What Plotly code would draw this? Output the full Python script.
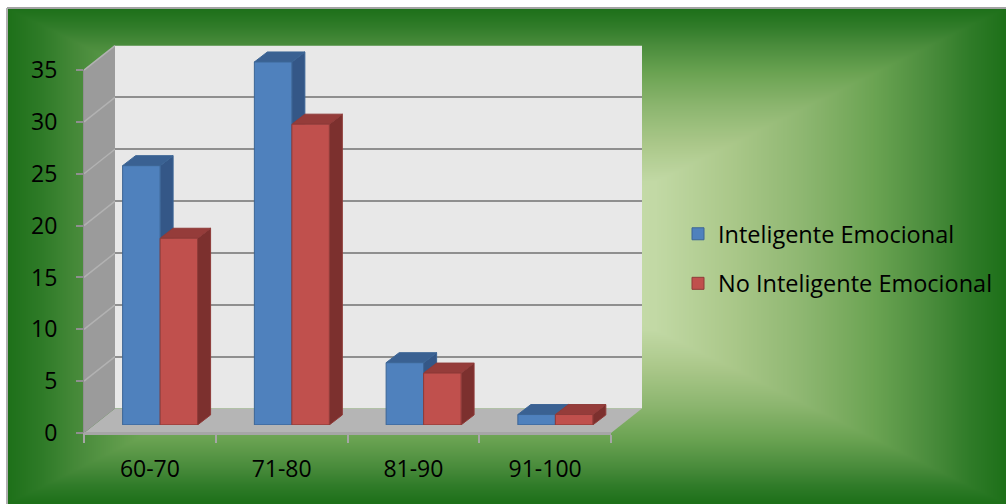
import base64
import struct
import zlib

import numpy as np
import plotly.graph_objects as go

# ---------------------------------------------------------------- data
rangos = ["60-70", "71-80", "81-90", "91-100"]
inteligente = [25, 35, 6, 1]
no_inteligente = [18, 29, 5, 1]
y_ticks = [0, 5, 10, 15, 20, 25, 30, 35]

# ---------------------------------------------------------------- geometry (pixels)
W, H = 1006, 504
FRAME_X0, FRAME_Y0 = 7, 8            # green panel top-left corner
FRONT_X0, FRONT_Y0 = 84, 433         # front floor edge / value 0
CAT_PX = 131.75                      # width of one category
UNIT_PX = 10.37                      # pixels per value unit
WALL_DX, WALL_DY = 31, -24.5         # front edge -> back wall offset
BAR_PLANE = 0.33                     # bars sit a third of the way in
BAR_DEPTH_PX = (13, -10)             # visible depth of each bar
BAR_W = 0.2845                       # bar width in category units
Y_MAX = 35
N = len(rangos)


def px(xp):
    return xp / W


def py(yp):
    return 1 - yp / H


def domain_x(x0_px, span_units):
    return [px(x0_px), px(x0_px + span_units * CAT_PX)]


def domain_y(y0_px, span_units):
    return [py(y0_px), py(y0_px - span_units * UNIT_PX)]


# ---------------------------------------------------------------- background gradient
def gradient_png(w, h):
    xs = (np.arange(w) + 0.5) / w * 2 - 1
    ys = (np.arange(h) + 0.5) / h * 2 - 1
    t = np.maximum(np.abs(xs)[None, :], np.abs(ys)[:, None])
    stops = [0.0, 0.30, 0.45, 0.60, 0.74, 0.85, 0.93, 1.0]
    cols = ["#cde0b2", "#c2d9a5", "#abc88a", "#8db670", "#6aa352",
            "#4a8c3c", "#2f7b28", "#1d7019"]
    rgb = np.array([[int(c[i:i + 2], 16) for i in (1, 3, 5)] for c in cols], float)
    img = np.stack([np.interp(t, stops, rgb[:, k]) for k in range(3)], axis=-1)
    img = np.clip(np.round(img), 0, 255).astype(np.uint8)
    raw = b"".join(b"\x00" + img[r].tobytes() for r in range(h))

    def chunk(tag, data):
        return (struct.pack(">I", len(data)) + tag + data
                + struct.pack(">I", zlib.crc32(tag + data) & 0xFFFFFFFF))

    png = (b"\x89PNG\r\n\x1a\n"
           + chunk(b"IHDR", struct.pack(">IIBBBBB", w, h, 8, 2, 0, 0, 0))
           + chunk(b"IDAT", zlib.compress(raw, 9))
           + chunk(b"IEND", b""))
    return "data:image/png;base64," + base64.b64encode(png).decode()


# ---------------------------------------------------------------- figure
fig = go.Figure()

xpos = [i + 0.5 for i in range(N)]
series = [
    ("Inteligente Emocional", inteligente, -BAR_W,
     "#4f81bd", "#3c6595", "#3a6192", "#345787"),
    ("No Inteligente Emocional", no_inteligente, 0.0,
     "#c0504d", "#8f3b39", "#953c3a", "#7c302e"),
]

depth_x = BAR_DEPTH_PX[0] / CAT_PX
depth_y = -BAR_DEPTH_PX[1] / UNIT_PX

shapes = []

# panel border
shapes.append(dict(type="line", xref="paper", yref="paper",
                   x0=px(FRAME_X0), x1=1, y0=py(FRAME_Y0), y1=py(FRAME_Y0),
                   line=dict(color="#a3a3a3", width=2), layer="below"))
shapes.append(dict(type="line", xref="paper", yref="paper",
                   x0=px(FRAME_X0), x1=px(FRAME_X0), y0=0, y1=py(FRAME_Y0),
                   line=dict(color="#b0b0b0", width=2), layer="below"))

# floor and side wall
fx1 = FRONT_X0 + N * CAT_PX
back_y0 = FRONT_Y0 + WALL_DY
top_front = FRONT_Y0 - Y_MAX * UNIT_PX
floor_path = (f"M{px(FRONT_X0)},{py(FRONT_Y0)} L{px(fx1)},{py(FRONT_Y0)} "
              f"L{px(fx1 + WALL_DX)},{py(back_y0)} L{px(FRONT_X0 + WALL_DX)},{py(back_y0)} Z")
shapes.append(dict(type="path", xref="paper", yref="paper", path=floor_path,
                   fillcolor="#b5b5b5", line=dict(width=0), layer="below"))
side_path = (f"M{px(FRONT_X0)},{py(FRONT_Y0)} L{px(FRONT_X0)},{py(top_front)} "
             f"L{px(FRONT_X0 + WALL_DX)},{py(top_front + WALL_DY)} "
             f"L{px(FRONT_X0 + WALL_DX)},{py(back_y0)} Z")
shapes.append(dict(type="path", xref="paper", yref="paper", path=side_path,
                   fillcolor="#9b9b9b", line=dict(width=0), layer="below"))
for v in y_ticks[1:]:
    yf = FRONT_Y0 - v * UNIT_PX
    shapes.append(dict(type="line", xref="paper", yref="paper",
                       x0=px(FRONT_X0), y0=py(yf),
                       x1=px(FRONT_X0 + WALL_DX), y1=py(yf + WALL_DY),
                       line=dict(color="#b2b2b2", width=1.5), layer="below"))

# back wall
shapes.append(dict(type="rect", xref="x", yref="y", x0=0, x1=N, y0=0, y1=Y_MAX,
                   fillcolor="#e8e8e8", line=dict(width=0), layer="below"))

# front edge of the floor, on the labelled front axes
shapes.append(dict(type="line", xref="x3", yref="y3", x0=0, x1=N, y0=0, y1=0,
                   line=dict(color="#a6a6a6", width=2), layer="below"))

# bar tops and sides (drawn beneath the bar fronts)
for name, vals, off, front, edge, top, side in series:
    for xc, v in zip(xpos, vals):
        xl = xc + off
        xr = xl + BAR_W
        top_path = (f"M{xl},{v} L{xl + depth_x},{v + depth_y} "
                    f"L{xr + depth_x},{v + depth_y} L{xr},{v} Z")
        side_path = (f"M{xr},0 L{xr},{v} L{xr + depth_x},{v + depth_y} "
                     f"L{xr + depth_x},{depth_y} Z")
        shapes.append(dict(type="path", xref="x2", yref="y2", path=side_path,
                           fillcolor=side, line=dict(color=edge, width=1), layer="below"))
        shapes.append(dict(type="path", xref="x2", yref="y2", path=top_path,
                           fillcolor=top, line=dict(color=edge, width=1), layer="below"))

for name, vals, off, front, edge, top, side in series:
    fig.add_trace(go.Bar(
        x=xpos, y=vals, name=name, width=BAR_W, offset=off,
        marker=dict(color=front, line=dict(color=edge, width=1)),
        xaxis="x2", yaxis="y2", legendgroup=name,
    ))

font = dict(family="Open Sans", size=23, color="#000000")
legend_font = dict(family="Open Sans", size=23.5, color="#000000")

bar_x0 = FRONT_X0 + BAR_PLANE * WALL_DX
bar_y0 = FRONT_Y0 + BAR_PLANE * WALL_DY

fig.update_layout(
    width=W, height=H,
    margin=dict(l=0, r=0, t=0, b=0, autoexpand=False),
    paper_bgcolor="#ffffff",
    plot_bgcolor="rgba(0,0,0,0)",
    barmode="overlay",
    font=font,
    showlegend=True,
    legend=dict(x=px(678), y=py(212), xanchor="left", yanchor="top",
                bgcolor="rgba(0,0,0,0)", font=legend_font, tracegroupgap=16,
                traceorder="grouped"),
    images=[dict(source=gradient_png(500, 248), xref="paper", yref="paper",
                 x=px(FRAME_X0), y=py(FRAME_Y0), xanchor="left", yanchor="top",
                 sizex=1 - px(FRAME_X0), sizey=py(FRAME_Y0), sizing="stretch",
                 layer="below")],
    shapes=shapes,
    # back wall with its gridlines
    xaxis=dict(domain=domain_x(FRONT_X0 + WALL_DX, N), range=[0, N],
               showgrid=False, zeroline=False, showticklabels=False, ticks="",
               automargin=False, fixedrange=True),
    yaxis=dict(domain=domain_y(back_y0, Y_MAX), range=[0, Y_MAX], anchor="x",
               tickvals=y_ticks, showgrid=True, gridcolor="#8f8f8f", gridwidth=2,
               zeroline=False, showticklabels=False, ticks="", automargin=False,
               fixedrange=True),
    # bar plane
    xaxis2=dict(domain=domain_x(bar_x0, N + 0.2), range=[0, N + 0.2], anchor="y2",
                visible=False, automargin=False, fixedrange=True),
    yaxis2=dict(domain=domain_y(bar_y0, Y_MAX + 2), range=[0, Y_MAX + 2], anchor="x2",
                visible=False, automargin=False, fixedrange=True),
    # front axes with labels
    xaxis3=dict(domain=domain_x(FRONT_X0, N), range=[0, N], anchor="y3",
                tickvals=xpos, ticktext=rangos, ticks="", showgrid=False,
                zeroline=False, showline=True, linecolor="#a6a6a6", linewidth=2,
                tickfont=font, ticklabelstandoff=14, automargin=False,
                minor=dict(tickvals=list(range(N + 1)), ticks="outside", ticklen=8,
                           tickcolor="#a6a6a6", tickwidth=1.5),
                fixedrange=True),
    yaxis3=dict(domain=domain_y(FRONT_Y0, Y_MAX), range=[0, Y_MAX], anchor="x3",
                tickvals=y_ticks, ticks="outside", ticklen=7, tickcolor="#8f8f8f",
                tickwidth=1.5, showgrid=False, zeroline=False, showline=True,
                linecolor="#8f8f8f", linewidth=1, tickfont=font,
                ticklabelstandoff=14, automargin=False, fixedrange=True),
)

fig.write_html("out.html")
